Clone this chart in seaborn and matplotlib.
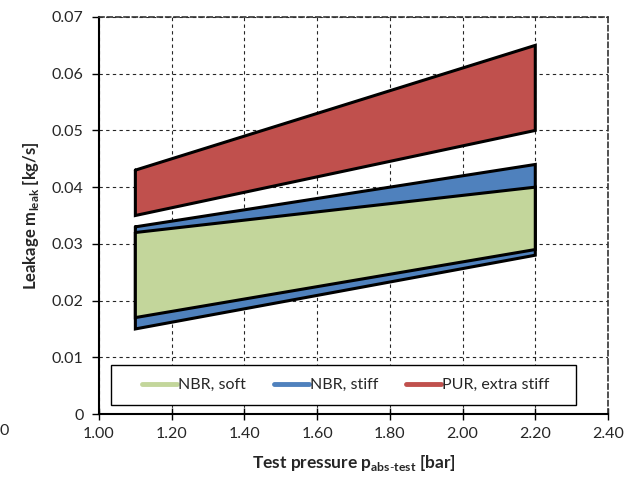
import matplotlib
matplotlib.use("Agg")
import matplotlib.pyplot as plt
import seaborn as sns
from matplotlib.lines import Line2D
from matplotlib.patches import Rectangle

sns.set_theme(style="white")
plt.rcParams['font.family'] = ['Lato', 'DejaVu Sans']
plt.rcParams['mathtext.fontset'] = 'custom'
plt.rcParams['mathtext.rm'] = 'Lato'
plt.rcParams['mathtext.bf'] = 'Lato:bold'

# data
pressure = [1.10, 2.20]
series = ["NBR, soft", "NBR, stiff", "PUR, extra stiff"]
soft_low = [0.017, 0.029]
soft_high = [0.032, 0.040]
stiff_low = [0.015, 0.028]
stiff_high = [0.033, 0.044]
pur_low = [0.035, 0.050]
pur_high = [0.043, 0.065]
colors = {"NBR, soft": "#C3D69B", "NBR, stiff": "#4F81BD", "PUR, extra stiff": "#C0504D"}

x_ticks = [1.00, 1.20, 1.40, 1.60, 1.80, 2.00, 2.20, 2.40]
y_ticks = [0, 0.01, 0.02, 0.03, 0.04, 0.05, 0.06, 0.07]

fig = plt.figure(figsize=(6.32, 4.79), dpi=100)
ax = fig.add_axes([99/632, 1-414/479, (608-99)/632, (414-17)/479])

bands = [("NBR, stiff", stiff_low, stiff_high),
         ("NBR, soft", soft_low, soft_high),
         ("PUR, extra stiff", pur_low, pur_high)]
for z, (name, lo, hi) in enumerate(bands):
    xs = pressure + pressure[::-1] + [pressure[0]]
    ys = hi + lo[::-1] + [hi[0]]
    ax.fill(xs, ys, color=colors[name], zorder=3 + z, lw=0)
    ax.plot(xs, ys, color="black", lw=2.2, zorder=3 + z, solid_joinstyle="miter")

ax.set_xlim(1.0, 2.4)
ax.set_ylim(0, 0.07)
ax.set_xticks(x_ticks)
ax.set_xticklabels([f"{v:.2f}" for v in x_ticks])
ax.set_yticks(y_ticks)
ax.set_yticklabels(["0"] + [f"{v:.2f}" for v in y_ticks[1:]])
ax.grid(True, color="black", linestyle=(0, (3, 3)), lw=0.8, alpha=0.85)
ax.set_axisbelow(True)
for s in ["top", "right"]:
    ax.spines[s].set_linestyle((0, (3, 2)))
    ax.spines[s].set_color("#333333")
    ax.spines[s].set_linewidth(1.2)
for s in ["left", "bottom"]:
    ax.spines[s].set_color("black")
    ax.spines[s].set_linewidth(1.5)
ax.tick_params(axis="x", which="major", direction="inout", length=8, width=1,
               color="black", labelsize=11.5, pad=5, bottom=True)
ax.tick_params(axis="y", which="major", direction="out", length=5, width=1,
               color="black", labelsize=11.5, pad=6, left=True)

ax.set_xlabel(r"Test pressure p$_{\mathbf{abs\text{-}test}}$ [bar]", fontsize=12.5,
              fontweight="bold", labelpad=9)
ax.set_ylabel(r"Leakage m$_{\mathbf{leak}}$ [kg/s]", fontsize=12,
              fontweight="bold", labelpad=8)

# legend frame (drawn as a box in axes fraction)
box = Rectangle(((111-99)/509, (414-405)/397), (576-111)/509, 40/397,
                transform=ax.transAxes, facecolor="white", edgecolor="black",
                lw=1.0, zorder=9)
ax.add_patch(box)

handles = [Line2D([0], [0], color=colors[n], lw=3.5) for n in series]
leg = ax.legend(handles, series, loc="center", ncol=3, fontsize=11.5,
                frameon=False,
                bbox_to_anchor=((346-99)/509, (414-385)/397),
                handlelength=2.2, handletextpad=0.05, columnspacing=1.75,
                borderpad=0, borderaxespad=0)
leg.set_zorder(10)

fig.text(0.0, 1 - 431/479, "0", fontsize=11.5, ha="left", va="center")

fig.savefig("out.png", dpi=100)
